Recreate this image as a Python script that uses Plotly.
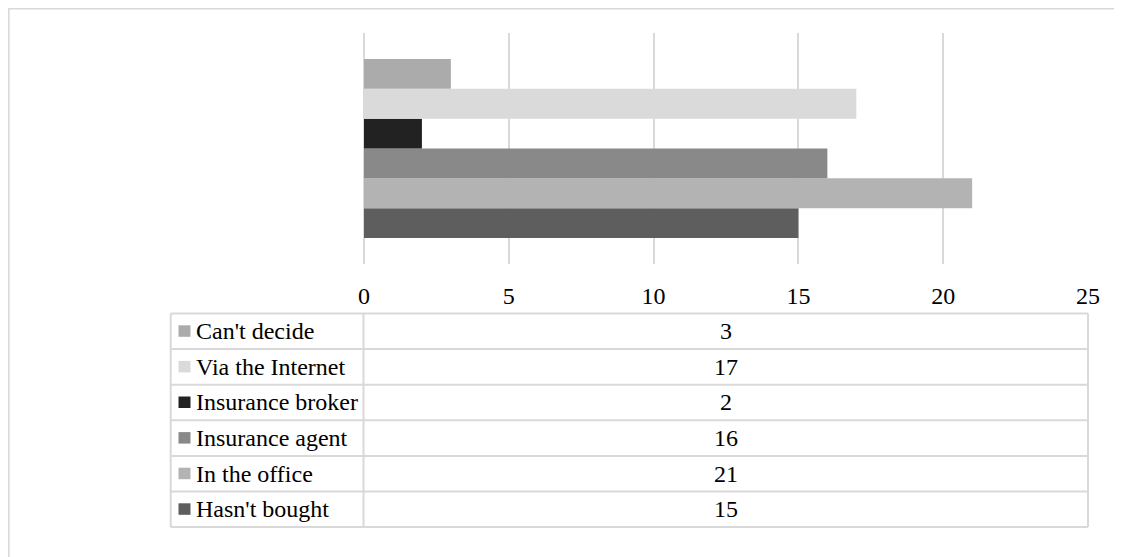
import plotly.graph_objects as go

# Data (bottom-to-top order of bars)
series = ["Hasn't bought", "In the office", "Insurance agent", "Insurance broker", "Via the Internet", "Can't decide"]
values = [15, 21, 16, 2, 17, 3]
colors = ["#5e5e5e", "#b3b3b3", "#898989", "#222222", "#dadada", "#ababab"]
xticks = [0, 5, 10, 15, 20, 25]

OFF = 8  # page body margin offset
W, H = 1122 - OFF, 557 - OFF
L, R, T, B = 364 - OFF, 1088 - OFF, 33 - OFF, 264 - OFF  # plot area in figure pixels
FONT = "Liberation Serif, Times New Roman, serif"
GRID = "#d9d9d9"

def px(x):
    # x given in screen pixels of the reference
    return (x - OFF - L) / (R - L)

def py(y):
    return (B - (y - OFF)) / (B - T)

fig = go.Figure()
for name, v, c in zip(series, values, colors):
    fig.add_trace(go.Bar(y=["cat"], x=[v], name=name, orientation="h",
                         marker=dict(color=c, line=dict(width=0)), showlegend=False))

shapes = []
annotations = []

# outer chart border
shapes.append(dict(type="rect", xref="paper", yref="paper", x0=px(OFF + 0.8), x1=px(1140),
                   y0=py(575), y1=py(OFF + 0.8), line=dict(color=GRID, width=1.6), layer="below"))

# data table
top, rh = 313.5, 35.6
nrows = len(series)
tl, tm, tr = 170.7, 363.5, 1088
for k in range(nrows + 1):
    yy = top + k * rh
    shapes.append(dict(type="line", xref="paper", yref="paper", x0=px(tl), x1=px(tr),
                       y0=py(yy), y1=py(yy), line=dict(color=GRID, width=2)))
for xx in (tl, tm, tr):
    shapes.append(dict(type="line", xref="paper", yref="paper", x0=px(xx), x1=px(xx),
                       y0=py(top), y1=py(top + nrows * rh), line=dict(color=GRID, width=2)))

rows = list(zip(series, values, colors))[::-1]
for i, (name, v, c) in enumerate(rows):
    cy = top + (i + 0.5) * rh
    shapes.append(dict(type="rect", xref="paper", yref="paper", x0=px(178.5), x1=px(190.5),
                       y0=py(cy + 5.5), y1=py(cy - 6), fillcolor=c, line=dict(width=0)))
    annotations.append(dict(xref="paper", yref="paper", x=px(194), y=py(cy), text=name,
                            showarrow=False, xanchor="left", yanchor="middle",
                            font=dict(family=FONT, size=24, color="#000000")))
    annotations.append(dict(xref="paper", yref="paper", x=px((tm + tr) / 2), y=py(cy), text=str(v),
                            showarrow=False, xanchor="center", yanchor="middle",
                            font=dict(family=FONT, size=24, color="#000000")))

fig.update_layout(
    width=W, height=H,
    margin=dict(l=L, r=W - R, t=T, b=H - B, pad=0),
    paper_bgcolor="white", plot_bgcolor="white",
    barmode="group", bargap=0.225, bargroupgap=0,
    shapes=shapes, annotations=annotations,
    font=dict(family=FONT, color="#000000"),
)
fig.update_xaxes(range=[0, 25], tickvals=xticks, showgrid=True, gridcolor=GRID, gridwidth=2,
                 zeroline=True, zerolinecolor=GRID, zerolinewidth=2, showline=False,
                 ticks="outside", ticklen=10, tickcolor="rgba(0,0,0,0)",
                 tickfont=dict(family=FONT, size=24, color="#000000"), fixedrange=True)
fig.update_yaxes(showticklabels=False, showgrid=False, zeroline=False, showline=False,
                 range=[-0.5, 0.5], fixedrange=True)

fig.write_html("out.html")
